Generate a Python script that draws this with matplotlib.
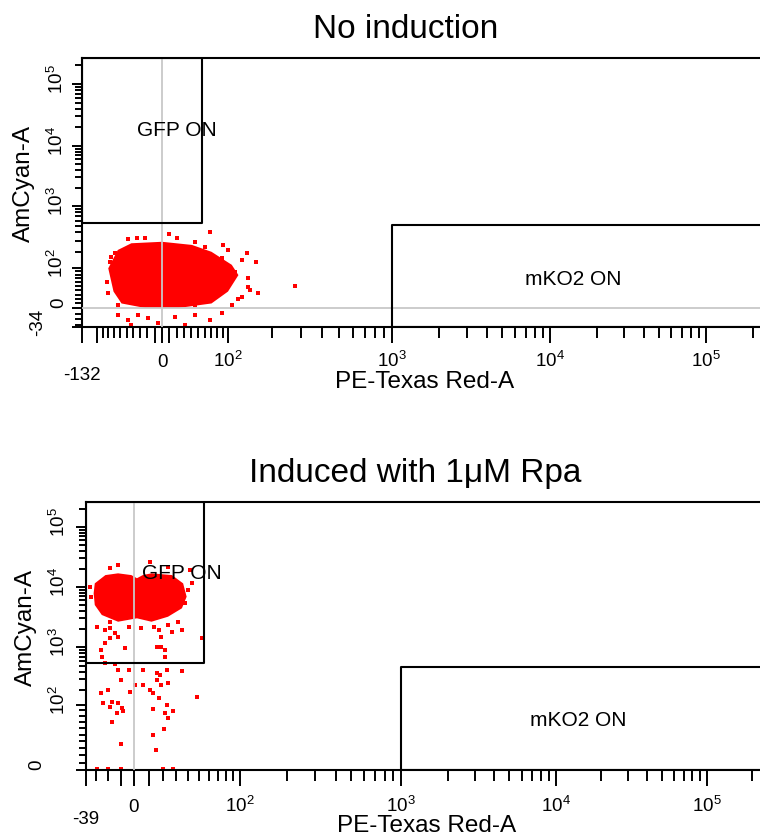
import numpy as np
import matplotlib
matplotlib.use('Agg')
import matplotlib.pyplot as plt
import matplotlib.transforms as mtransforms
from matplotlib.ticker import FixedLocator

plt.rcParams['font.family'] = ['Liberation Sans', 'DejaVu Sans']
plt.rcParams['mathtext.fontset'] = 'custom'
plt.rcParams['mathtext.rm'] = 'Liberation Sans'
plt.rcParams['mathtext.it'] = 'Liberation Sans:italic'

# ---- data (PE-Texas Red-A, AmCyan-A) ----
# no induction: outline of the dense event cloud, and the sparse events around it
noind_core_x = [-80, -64, -43, 0, 41, 71, 107, 120, 100, 71, 22, -23, -58, -71]
noind_core_y = [99, 212, 272, 287, 256, 198, 116, 79, 37, 10, 0, 0, 10, 37]
noind_x = [69, 9, 278, 164, 160, 141, -63, -48, -5, 31, 69, 89, -33, -19, 17, 46, -43,
           -48, -35, 20, 46, 91, 100, 127, 137, 141, 144, 127, 107, -80, -83, -77, -69, -63,
           -75, -23, 61, 89, 113, 120, 46]
noind_y = [411, 375, 50, 33, 130, 49, -12, -21, -27, -30, -21, -9, -12, -18, -15, -12, -30,
           317, 325, 325, 287, 256, 212, 143, 187, 70, 41, 25, 7, 33, 61, 133, 187, 7,
           163, 325, 239, 154, 89, 21, 7]

# induced with 1uM Rpa
ind_core_x = [-31, -22, -12, -2, 2, 6, 12, 27, 36, 39, 35, 24, 12, 2, -12, -25, -31, -32]
ind_core_y = [11500, 15800, 16900, 15800, 14000, 15800, 16900, 15800, 11500, 6890, 4420,
              3200, 2640, 3010, 2640, 3420, 5010, 7860]
ind_x = [-29, -22, -18, -26, -12, -7, 14, 19, 27, 32, 53, 16, 22, 38, 44, -12, 11, -18,
         -22, -14, -12, -10, -20, -26, -24, -17, -18, -12, -9, -8, -13, -17, -10,
         -3, 1, 6, 6, 11, 16, 18, 16, 19, 23, 24, 13, 17, 23, 28, 22, 24, 13, 13, 15, 21,
         35, 48, -29, -20, -10, 20, 28, -4, -34, -35, 40, 42, 24, -18,
         -18, -4, -14, 17, 24, 35, -22, 19, -25, 22, 5]
ind_y = [2180, 1920, 1400, 895, 1480, 950, 2180, 1480, 1800, 2640, 1400, 1010, 895, 5350, 11500, 23300, 26400, 2640,
         548, 535, 428, 292, 197, 172, 109, 118, 97, 109, 94, 88, 85, 70, 36,
         184, 240, 428, 240, 197, 377, 354, 292, 240, 428, 257, 172, 138, 100, 88, 85, 76, 92, 49, 27, 59,
         417, 148, 2, 2, 2, 2, 2, 428, 6890, 10000, 8900, 19200, 21800, 20500,
         2050, 2180, 1690, 1920, 2330, 1920, 1155, 1010, 700, 700, 2050]

# gates: (x0, x1, y0, y1)
noind_gfp = (-132, 56, 560, 262144)
noind_mko2 = (1000, 262144, -34, 520)
ind_gfp = (-39, 55, 555, 262144)
ind_mko2 = (1000, 262144, 0, 480)

decade_labels = ['$\\mathregular{10^2}$', '$\\mathregular{10^3}$',
                 '$\\mathregular{10^4}$', '$\\mathregular{10^5}$']

W, H = 760, 836
fig = plt.figure(figsize=(W / 100, H / 100), dpi=100)


def calib(vals, pix, c):
    # biexponential-like display scale, pinned to the printed tick positions
    U = np.arcsinh(np.asarray(vals, float) / c)
    P = np.asarray(pix, float)

    def fwd(v):
        u = np.arcsinh(np.asarray(v, float) / c)
        p = np.interp(u, U, P)
        p = np.where(u < U[0], P[0] + (u - U[0]) * (P[1] - P[0]) / (U[1] - U[0]), p)
        p = np.where(u > U[-1], P[-1] + (u - U[-1]) * (P[-1] - P[-2]) / (U[-1] - U[-2]), p)
        return p

    def inv(p):
        p = np.asarray(p, float)
        u = np.interp(p, P, U)
        u = np.where(p < P[0], U[0] + (p - P[0]) * (U[1] - U[0]) / (P[1] - P[0]), u)
        u = np.where(p > P[-1], U[-1] + (p - P[-1]) * (U[-1] - U[-2]) / (P[-1] - P[-2]), u)
        return c * np.sinh(np.clip(u, -50, 50))
    return fwd, inv


def panel(xcal, ycal, xlim, ylim, core_x, core_y, ev_x, ev_y, gfp, mko2,
          gfp_txt, mko2_txt, xmaj, xmin_t, ymaj, ymin_t, xlabs, ylabs,
          xmin_lab, ymin_lab, x_dy, x_dy_min, y_dx, y_dx_min, hzero):
    fx, ix = calib(xcal[0], xcal[1], xcal[2])
    fy, iy = calib(ycal[0], -np.asarray(ycal[1], float), ycal[2])
    left, right = float(fx(xlim[0])), float(fx(xlim[1]))
    bot, top = -float(fy(ylim[0])), -float(fy(ylim[1]))
    ax = fig.add_axes([left / W, 1 - bot / H, (right - left) / W, (bot - top) / H])
    ax.set_xscale('function', functions=(fx, ix))
    ax.set_yscale('function', functions=(fy, iy))
    ax.set_xlim(*xlim)
    ax.set_ylim(*ylim)

    ax.fill(core_x, core_y, color='#ff0000', lw=0, zorder=2)
    ax.plot(ev_x, ev_y, 's', ms=2.2, mew=0, color='#ff0000', zorder=2)

    ax.axvline(0, color='#c8c8c8', lw=1.3, zorder=3)
    if hzero:
        ax.axhline(0, color='#c8c8c8', lw=1.3, zorder=3)

    for g in (gfp, mko2):
        ax.plot([g[0], g[1], g[1], g[0], g[0]], [g[2], g[2], g[3], g[3], g[2]],
                color='black', lw=1.5, zorder=4)
    ax.text(gfp_txt[0], gfp_txt[1], 'GFP ON', fontsize=15, ha='center', va='center', zorder=5)
    ax.text(mko2_txt[0], mko2_txt[1], 'mKO2 ON', fontsize=15, ha='center', va='center', zorder=5)

    ax.xaxis.set_major_locator(FixedLocator(xmaj))
    ax.xaxis.set_minor_locator(FixedLocator(xmin_t))
    ax.yaxis.set_major_locator(FixedLocator(ymaj))
    ax.yaxis.set_minor_locator(FixedLocator(ymin_t))
    ax.tick_params(axis='x', which='major', length=11.5, width=1.4, labelbottom=False)
    ax.tick_params(axis='x', which='minor', length=8, width=1.4)
    ax.tick_params(axis='y', which='major', length=7, width=1.4, labelleft=False)
    ax.tick_params(axis='y', which='minor', length=5, width=1.4)
    ax.spines['right'].set_visible(False)
    for s in ('left', 'bottom', 'top'):
        ax.spines[s].set_linewidth(1.5)

    # tick labels, FACSDiva style (limit value set further out)
    xtr = ax.get_xaxis_transform()
    for v, s in xlabs:
        off = mtransforms.ScaledTranslation(0, -x_dy / 72, fig.dpi_scale_trans)
        ax.text(v, 0, s, transform=xtr + off, ha='center', va='baseline',
                fontsize=13.5, clip_on=False)
    off = mtransforms.ScaledTranslation(0, -x_dy_min / 72, fig.dpi_scale_trans)
    ax.text(xmin_lab[0], 0, xmin_lab[1], transform=xtr + off, ha='center',
            va='baseline', fontsize=13.5, clip_on=False)
    ytr = ax.get_yaxis_transform()
    for v, s in ylabs:
        off = mtransforms.ScaledTranslation(-y_dx / 72, 3.5 / 72, fig.dpi_scale_trans)
        ax.text(0, v, s, transform=ytr + off, rotation=90, rotation_mode='anchor',
                ha='center', va='baseline', fontsize=13.5, clip_on=False)
    off = mtransforms.ScaledTranslation(-y_dx_min / 72, 3.5 / 72, fig.dpi_scale_trans)
    ax.text(0, ymin_lab[0], ymin_lab[1], transform=ytr + off, rotation=90,
            rotation_mode='anchor', ha='center', va='baseline', fontsize=13.5, clip_on=False)
    return ax


decades = [m * 10 ** k for k in (2, 3, 4) for m in range(2, 10)] + [2e5]
tens = [10, 20, 30, 40, 50, 60, 70, 80, 90]

# ---- No induction ----
panel(([-132, 0, 100, 1e3, 1e4, 1e5], [82, 162, 228, 392, 550, 706], 100),
      ([-34, 0, 100, 1e3, 1e4, 1e5], [327, 308, 268, 206, 146, 84], 100),
      (-132, 262144), (-34, 262144),
      noind_core_x, noind_core_y, noind_x, noind_y, noind_gfp, noind_mko2,
      (20, 18000), (14000, 66),
      [-132, -100, -10, 0, 10, 100, 1e3, 1e4, 1e5],
      [-90, -80, -70, -60, -50, -40, -30, -20] + tens[1:] + decades,
      [-34, 0, 100, 1e3, 1e4, 1e5],
      [-30, -20, -10] + tens + decades,
      list(zip([0, 100, 1e3, 1e4, 1e5], ['0'] + decade_labels)),
      list(zip([0, 100, 1e3, 1e4, 1e5], ['0'] + decade_labels)),
      (-132, '-132'), (-34, '-34'),
      28.6, 38, 13.7, 29, True)

# ---- Induced ----
panel(([-39, 0, 100, 1e3, 1e4, 1e5], [86, 134, 240, 401, 556, 707], 50),
      ([0, 100, 1e3, 1e4, 1e5], [770, 705, 647, 587, 527], 100),
      (-39, 262144), (0, 262144),
      ind_core_x, ind_core_y, ind_x, ind_y, ind_gfp, ind_mko2,
      (35, 16800), (14000, 73),
      [-39, -10, 0, 10, 100, 1e3, 1e4, 1e5],
      [-30, -20] + tens[1:] + decades,
      [0, 100, 1e3, 1e4, 1e5],
      tens + decades,
      list(zip([0, 100, 1e3, 1e4, 1e5], ['0'] + decade_labels)),
      list(zip([100, 1e3, 1e4, 1e5], decade_labels)),
      (-39, '-39'), (0, '0'),
      30, 39, 15, 32, False)

# titles and axis labels
fig.text(406 / W, 1 - 38 / H, 'No induction', fontsize=24, ha='center', va='baseline')
fig.text(415 / W, 1 - 482 / H, 'Induced with 1μM Rpa', fontsize=24, ha='center', va='baseline')
for xc, yb in ((425, 388), (427, 832)):
    fig.text(xc / W, 1 - yb / H, 'PE-Texas Red-A', fontsize=17.5, ha='center', va='baseline')
for xb, yc in ((30, 184), (32, 628)):
    fig.text(xb / W, 1 - yc / H, 'AmCyan-A', fontsize=17.5, rotation=90,
             rotation_mode='anchor', ha='center', va='baseline')

fig.savefig('out.png', dpi=100)
